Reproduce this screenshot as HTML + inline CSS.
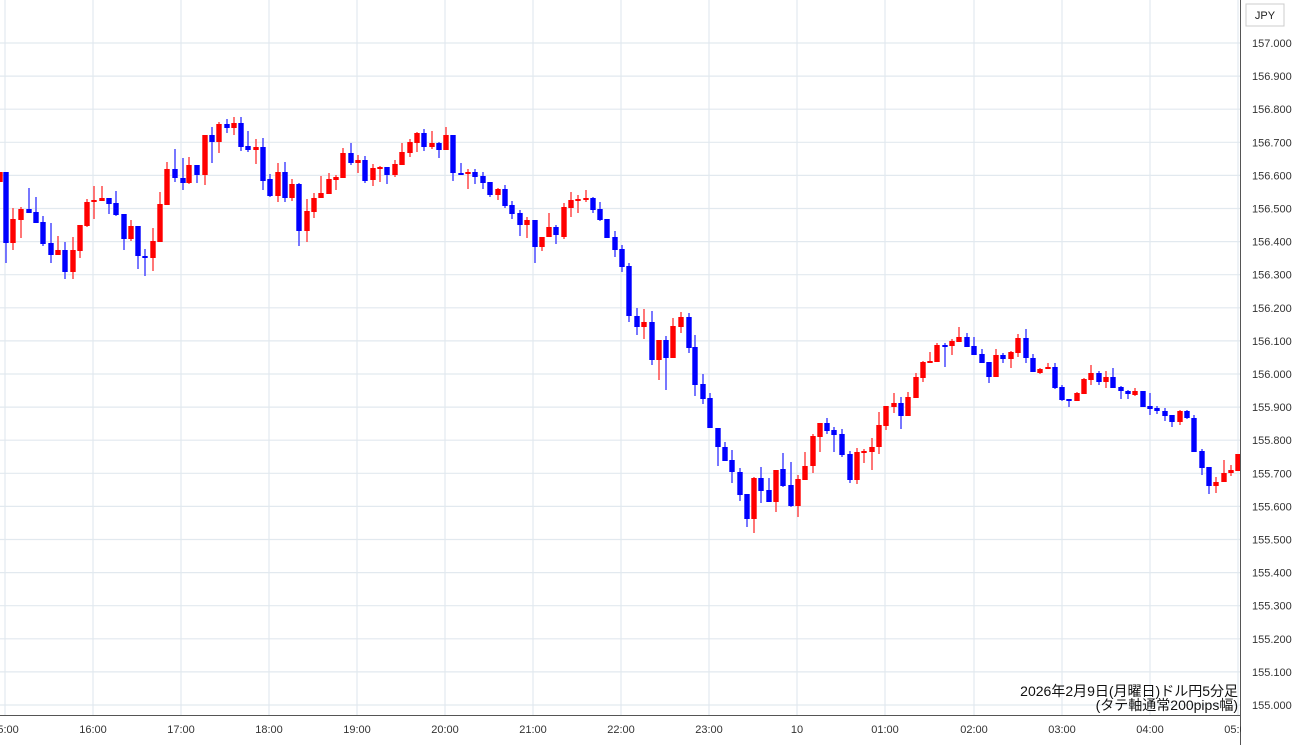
<!DOCTYPE html>
<html><head><meta charset="utf-8"><style>
html,body{margin:0;padding:0;background:#fff;width:1300px;height:745px;overflow:hidden}
svg text{font-family:"Liberation Sans","Noto Sans CJK JP",sans-serif}
</style></head><body>
<svg id="s" width="1300" height="745" xmlns="http://www.w3.org/2000/svg">
<rect width="1300" height="745" fill="#fff"/>
<g id="grid" stroke="#e2e9ef" stroke-width="1.2"></g>
<g id="c"></g>
<line x1="1240.5" y1="0" x2="1240.5" y2="745" stroke="#555" stroke-width="1"/>
<line x1="0" y1="715.5" x2="1240" y2="715.5" stroke="#555" stroke-width="1"/>
<rect x="1246" y="4" width="38" height="22" fill="#fff" stroke="#ccc"/>
<text x="1265" y="19" font-size="11" text-anchor="middle" fill="#222">JPY</text>
<g id="yl" font-size="11" fill="#333"></g>
<g font-size="11" fill="#333" text-anchor="middle">
<text x="5" y="733">15:00</text><text x="93" y="733">16:00</text><text x="181" y="733">17:00</text><text x="269" y="733">18:00</text><text x="357" y="733">19:00</text><text x="445" y="733">20:00</text><text x="533" y="733">21:00</text><text x="621" y="733">22:00</text><text x="709" y="733">23:00</text><text x="797" y="733">10</text><text x="885" y="733">01:00</text><text x="974" y="733">02:00</text><text x="1062" y="733">03:00</text><text x="1150" y="733">04:00</text><text x="1238" y="733">05:00</text>
</g>
<rect x="1241" y="718" width="59" height="27" fill="#fff"/>
<g font-size="14" fill="#111" text-anchor="end">
<text x="1238" y="696">2026年2月9日(月曜日)ドル円5分足</text>
<text x="1238" y="710">(タテ軸通常200pips幅)</text>
</g>
</svg>
<script>
var ns="http://www.w3.org/2000/svg";
function el(p,t,a){var e=document.createElementNS(ns,t);for(var k in a)e.setAttribute(k,a[k]);p.appendChild(e);return e;}
var g=document.getElementById('grid'),yl=document.getElementById('yl');
for(var k=0;k<=20;k++){var y=43+k*33.1;el(g,'line',{x1:0,x2:1240,y1:y,y2:y});
var t=el(yl,'text',{x:1252,y:y+4});t.textContent=(157-k*0.1).toFixed(3);}
[5,93,181,269,357,445,533,621,709,797,885,974,1062,1150,1238].forEach(function(x){el(g,'line',{x1:x,x2:x,y1:0,y2:715});});
var R='r',B='b';
var d=[
[0,172,182,172,182,R],[6,172,243,172,263,B],[13,219,243,208,250,R],[21,209,220,207,238,R],[29,209,213,188,213,B],[36,212,223,197,223,B],[43,222,244,216,246,B],[51,243,255,223,263,B],[58,250,255,236,255,R],[65,250,272,242,279,B],[73,250,272,237,279,R],[80,225,251,225,258,R],[87,202,226,199,227,R],[94,200,202,186,219,R],[102,198,201,186,201,R],[109,198,204,198,214,B],[116,203,215,191,216,B],[124,214,239,214,250,B],[131,226,239,220,241,R],[138,226,256,226,269,B],[145,256,258,249,276,B],[153,241,258,228,271,R],[160,204,242,192,242,R],[167,169,205,162,205,R],[175,169,178,149,182,B],[183,178,183,158,190,B],[189,165,183,157,184,R],[197,165,175,165,183,B],[205,135,175,135,185,R],[212,135,142,127,163,B],[219,124,142,122,153,R],[227,124,128,119,133,B],[234,123,128,117,135,R],
[241,123,147,117,151,B],[248,146,150,131,152,B],[256,147,150,139,164,R],[263,147,181,138,190,B],[270,179,196,174,197,B],[278,172,196,163,202,R],[285,172,198,162,202,B],[292,184,198,179,201,R],[299,184,231,183,246,B],[307,211,231,199,242,R],[314,198,212,193,218,R],[321,193,198,176,198,R],[329,179,194,173,194,R],[336,177,180,175,190,R],[343,153,178,148,178,R],[351,153,163,143,165,B],[358,160,163,155,173,R],[365,160,181,156,183,B],[373,168,180,164,186,R],[380,167,169,166,182,R],[387,167,175,167,184,B],[395,164,175,160,177,R],[402,152,165,143,165,R],[410,142,153,139,157,R],[417,133,143,132,152,R],[424,133,147,129,151,B],[432,143,147,131,149,R],[439,143,150,142,158,B],[446,135,150,127,150,R],[453,135,173,135,181,B],
[461,173,174,163,175,B],[468,172,174,169,189,R],[475,172,177,169,184,B],[483,176,183,172,189,B],[490,182,195,182,197,B],[498,189,195,188,200,R],[505,189,206,185,208,B],[512,205,214,201,219,B],[520,213,225,210,236,B],[527,220,225,217,238,R],[535,220,247,220,263,B],[542,237,247,237,251,R],[549,227,237,213,237,R],[556,227,235,225,244,B],[564,207,237,203,239,R],[571,200,208,192,217,R],[578,199,200,195,213,R],[586,198,200,190,202,R],[593,198,210,197,213,B],[600,209,220,202,221,B],[607,219,238,219,238,B],[615,237,250,231,257,B],[622,249,267,245,272,B],[629,266,316,263,322,B],[637,316,327,308,335,B],[644,322,327,309,339,R],[652,322,360,311,365,B],[659,340,360,340,380,R],[666,340,358,336,390,B],[673,326,358,318,358,R],[681,317,327,312,333,R],[689,317,348,313,353,B],
[695,347,385,335,396,B],[703,384,399,374,404,B],[710,398,428,393,428,B],[718,428,447,428,466,B],[725,447,461,442,461,B],[732,460,472,450,483,B],[740,472,495,468,501,B],[747,494,519,494,527,B],[754,478,519,477,533,R],[761,478,491,467,503,B],[769,490,502,478,502,B],[776,470,502,470,512,R],[783,469,486,453,487,B],[791,485,506,462,507,B],[798,479,506,475,517,R],[805,466,480,452,480,R],[813,436,466,434,473,R],[820,423,437,423,452,R],[827,423,431,418,434,B],[834,430,435,427,452,B],[842,434,455,429,457,B],[850,454,480,451,483,B],[857,452,480,448,484,R],[864,451,453,449,463,R],[872,447,452,438,470,R],[879,425,447,412,454,R],[886,406,426,406,430,R],[894,403,407,393,413,R],[901,403,416,397,429,B],[908,397,416,392,416,R],[916,377,398,373,398,R],[923,362,378,361,382,R],[930,361,363,352,363,R],[937,345,362,343,362,R],
[945,345,346,343,367,B],[952,341,346,339,355,R],[959,337,342,327,342,R],[967,337,347,333,347,B],[974,346,355,337,355,B],[982,354,363,349,363,B],[989,362,377,362,383,B],[996,355,377,349,377,R],[1003,355,359,353,363,B],[1011,352,359,351,368,R],[1018,338,353,334,357,R],[1026,338,358,329,363,B],[1033,358,372,354,372,B],[1040,369,373,368,374,R],[1048,367,369,363,369,R],[1055,367,388,363,389,B],[1062,387,400,385,401,B],[1069,399,400,399,407,B],[1077,393,401,392,401,R],[1084,379,394,378,394,R],[1091,373,380,365,385,R],[1099,373,382,371,385,B],[1106,377,382,371,388,R],[1113,377,388,368,388,B],[1121,387,391,386,399,B],[1128,391,394,390,399,B],[1135,391,395,388,396,R],[1143,391,407,391,407,B],[1150,406,409,393,415,B],[1157,408,411,406,414,B],[1165,411,416,408,421,B],[1172,415,422,415,427,B],[1180,411,422,410,425,R],[1187,411,418,410,419,B],[1194,418,452,415,452,B],[1202,451,468,449,475,B],[1209,467,486,467,494,B],[1216,482,486,477,493,R],[1224,473,482,460,482,R],[1231,470,473,465,476,R],[1238,454,471,454,471,R]
];
var cg=document.getElementById('c');
d.forEach(function(a){var col=a[5]==R?'#f00':'#00f';var wc=a[5]==R?'#f55':'#55f';
el(cg,'line',{x1:a[0],x2:a[0],y1:a[3],y2:a[4],stroke:wc,'stroke-width':1.6});
var h=Math.max(a[2]-a[1],2);el(cg,'rect',{x:a[0]-2.7,y:a[1],width:5.4,height:h,fill:col});});
</script>
</body></html>
